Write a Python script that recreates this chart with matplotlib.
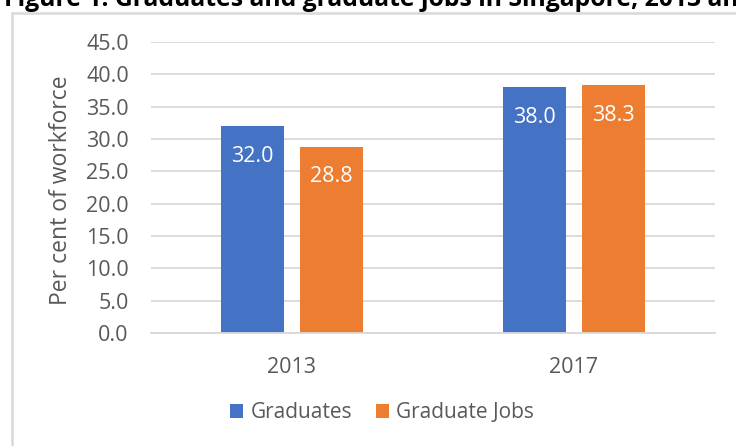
import matplotlib
matplotlib.use("Agg")
import matplotlib.pyplot as plt
from matplotlib.patches import Rectangle
import numpy as np

plt.rcParams['font.family'] = ['Open Sans', 'DejaVu Sans']

categories = ["2013", "2017"]
graduates = [32.0, 38.0]
graduate_jobs = [28.8, 38.3]
series_names = ["Graduates", "Graduate Jobs"]
title = "Figure 1: Graduates and graduate jobs in Singapore, 2013 and 2017"
ylabel = "Per cent of workforce"
yticks = [0, 5, 10, 15, 20, 25, 30, 35, 40, 45]

W, H = 736, 446
fig = plt.figure(figsize=(W / 100, H / 100), dpi=100)
ax = fig.add_axes([151 / W, 1 - 333 / H, (715 - 151) / W, (333 - 42) / H])

blue = "#4472C4"
orange = "#ED7D31"
grid_c = "#D9D9D9"
text_c = "#595959"

x = np.arange(len(categories))
bw = 0.224
off = 0.141
b1 = ax.bar(x - off, graduates, bw, color=blue, label=series_names[0], zorder=2)
b2 = ax.bar(x + off, graduate_jobs, bw, color=orange, label=series_names[1], zorder=2)

for bars, vals in ((b1, graduates), (b2, graduate_jobs)):
    for r, v in zip(bars, vals):
        ax.annotate(f"{v:.1f}", (r.get_x() + r.get_width() / 2, v),
                    xytext=(0, -14), textcoords="offset points",
                    ha="center", va="top", color="white", fontsize=15.5, zorder=3)

ax.set_xlim(-0.5, 1.5)
ax.set_ylim(0, 45)
ax.set_yticks(yticks)
ax.set_yticklabels([f"{t:.1f}" for t in yticks])
ax.set_xticks(x)
ax.set_xticklabels(categories)
ax.tick_params(axis="both", length=0, labelsize=15.5, colors=text_c)
ax.tick_params(axis="y", pad=16)
ax.tick_params(axis="x", pad=17)
ax.yaxis.grid(True, color=grid_c, lw=1.3, zorder=0)
ax.set_axisbelow(True)
for s in ("top", "right", "left"):
    ax.spines[s].set_visible(False)
ax.spines["bottom"].set_color(grid_c)
ax.spines["bottom"].set_linewidth(1.3)
ax.set_ylabel(ylabel, fontsize=16.5, color=text_c)
ax.yaxis.set_label_coords(-0.138, 0.491)

leg = fig.legend(handles=[b1, b2], labels=series_names, loc="center",
                 bbox_to_anchor=(382 / W, 1 - 413 / H), ncol=2, frameon=False,
                 fontsize=15, handlelength=0.63, handleheight=0.63, handletextpad=0.34,
                 columnspacing=1.15, labelcolor=text_c)

# chart frame (partially outside the image)
fig.add_artist(Rectangle((12 / W, -0.1), 1.2, 1 - 12.5 / H + 0.1, transform=fig.transFigure,
                         fill=False, edgecolor=grid_c, lw=1.8, clip_on=False))

fig.text(4 / W, 1 - 6 / H, title, fontsize=17.8, fontweight="bold", color="black",
         ha="left", va="baseline")

fig.savefig("out.png", dpi=100)
